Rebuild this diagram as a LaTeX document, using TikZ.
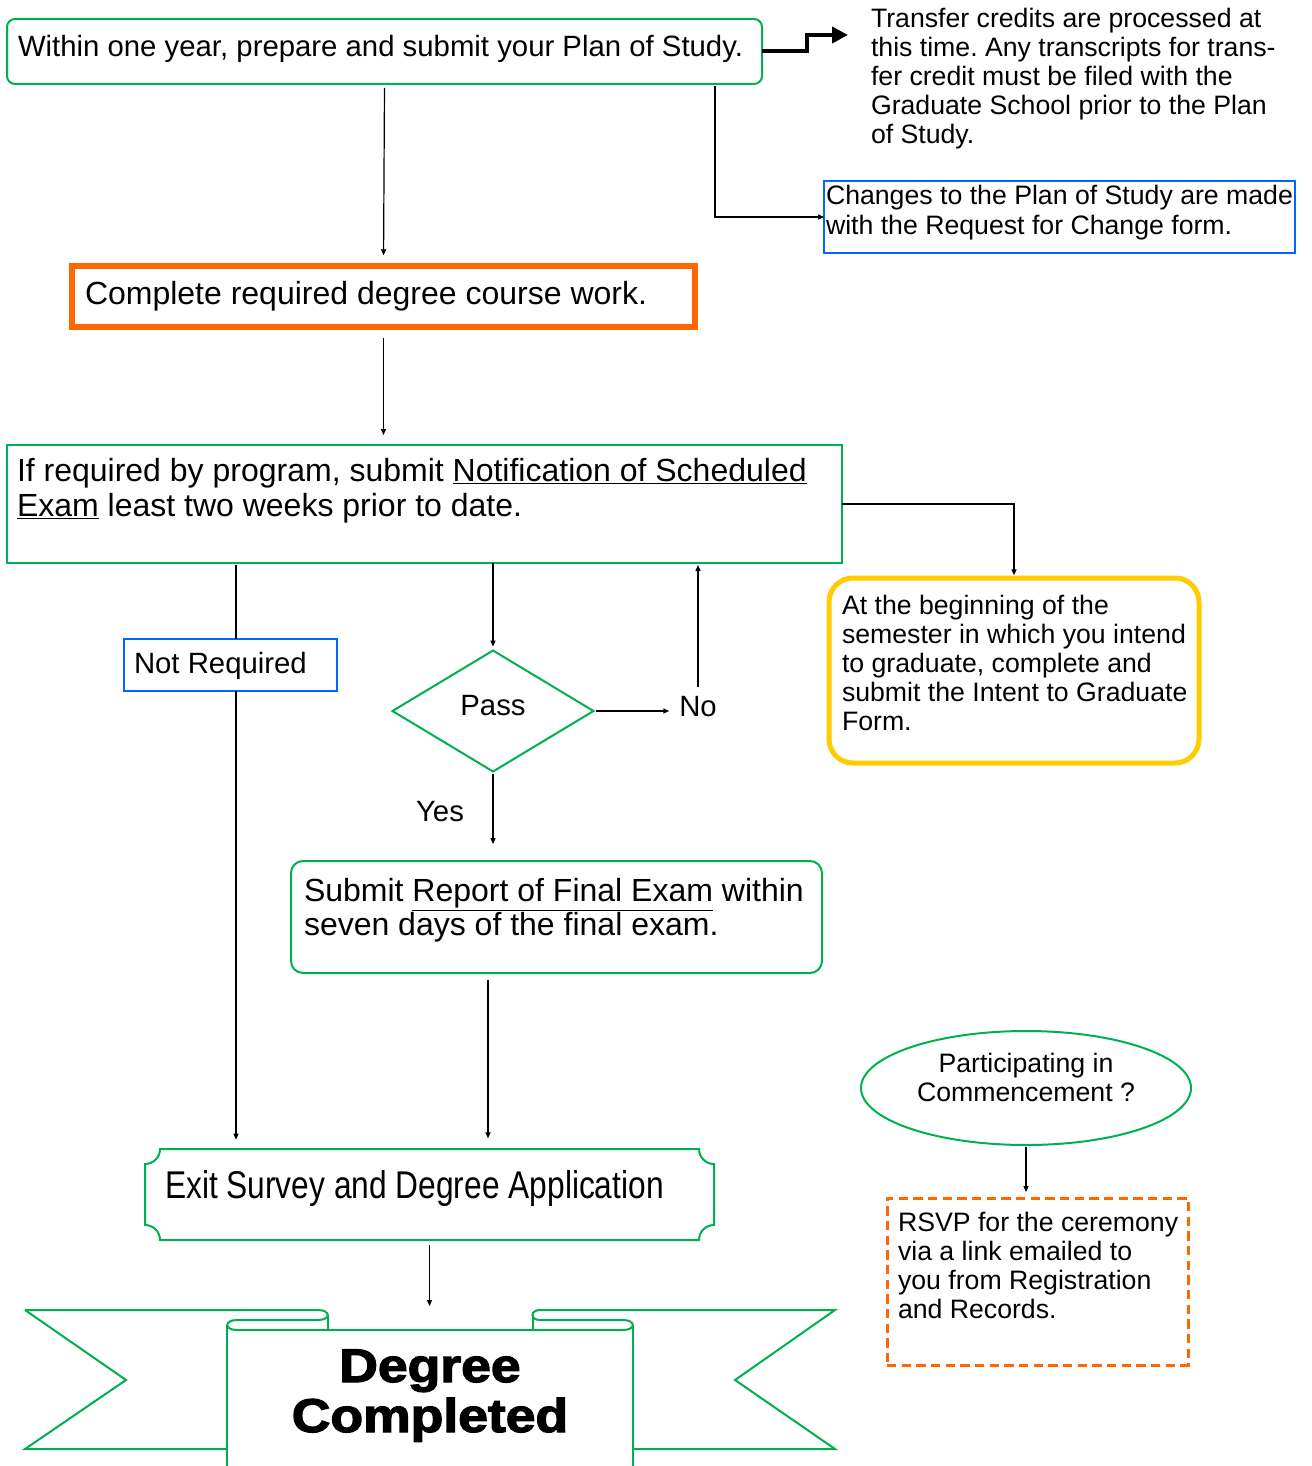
\documentclass[tikz,border=0pt]{standalone}
\usepackage{fontspec}
\setmainfont{Liberation Sans}
\newfontfamily\blk{Liberation Sans Bold}[FakeBold=2.5]
\usetikzlibrary{arrows.meta,shapes.geometric,calc}
\definecolor{gr}{RGB}{0,176,80}
\definecolor{orng}{RGB}{255,102,0}
\definecolor{blu}{RGB}{0,102,255}
\definecolor{yel}{RGB}{255,204,0}
\frenchspacing
\begin{document}
\begin{tikzpicture}[x=0.75pt,y=-0.75pt,
  sz/.style 2 args={minimum width=#1*0.75pt, minimum height=#2*0.75pt, inner sep=0pt, outer sep=0pt},
  gbox/.style={draw=gr, line width=1.5pt},
  bbox/.style={draw=blu, line width=1.5pt},
  txts/.style={inner sep=0pt, outer sep=0pt, align=left, anchor=base west, font=\fontsize{20}{21.75}\selectfont},
  txtm/.style={inner sep=0pt, outer sep=0pt, align=left, anchor=base west, font=\fontsize{22}{24}\selectfont},
  txtl/.style={inner sep=0pt, outer sep=0pt, align=left, anchor=base west, font=\fontsize{24}{26.25}\selectfont},
  arr/.style={-{Triangle[length=4.5pt,width=3.8pt]}, line width=0.9pt},
  thickarr/.style={-{Triangle[length=12pt,width=12pt]}, line width=3pt},
]
\fill[white] (0,0) rectangle (1312,1466);
\useasboundingbox (0,0) rectangle (1312,1466);

% boxes (base anchor of a multi-line text = baseline of its last line)
\node[gbox, rounded corners=6pt, sz={755}{65}, anchor=north west] (b1) at (7,19) {};
\node[txtm] (t1) at (18,56.5) {Within one year, prepare and submit your Plan of Study.};

\node[txts] (tr) at (871,143.5) {Transfer credits are processed at\\this time. Any transcripts for trans-\\fer credit must be filed with the\\Graduate School prior to the Plan\\of Study.};
\coordinate (trin) at (848,35);
\coordinate (trk) at (807,35);

\node[bbox, sz={471}{72}, anchor=north west] (b5) at (824,181) {};
\node[txts, font=\fontsize{20}{22.5}\selectfont] (t5) at (826,234.5) {Changes to the Plan of Study are made\\with the Request for Change form.};

\node[draw=orng, line width=4.5pt, sz={623}{61}, anchor=north west] (b2) at (72,266) {};
\node[txtl] (t2) at (85,304.5) {Complete required degree course work.};

\node[gbox, sz={835}{118}, anchor=north west] (b3) at (7,445) {};
\node[txtl] (t3) at (17,516.5) {If required by program, submit \underline{Notification of Scheduled}\\\underline{Exam} least two weeks prior to date.};

\node[draw=yel, line width=3.75pt, rounded corners=18pt, sz={370}{185}, anchor=north west] (yb) at (829,578) {};
\node[txts] (ty) at (842,730.5) {At the beginning of the\\semester in which you intend\\to graduate, complete and\\submit the Intent to Graduate\\Form.};

\node[bbox, sz={213}{52}, anchor=north west] (nr) at (124,639) {};
\node[txtm] (tnr) at (134,673.5) {Not Required};
\coordinate (nrx) at (236,0);

\node[gbox, diamond, sz={201}{121}] (dm) at (493,711) {};
\node[txtm, anchor=base] (tp) at (493,715.5) {Pass};
\node[txtm, anchor=base] (no) at (698,716.5) {No};
\node[txtm, anchor=base] (yes) at (440,821.5) {Yes};

\node[gbox, rounded corners=9pt, sz={531}{112}, anchor=north west] (b4) at (291,861) {};
\node[txtl, font=\fontsize{24}{25.5}\selectfont] (t4) at (304,935.5) {Submit \underline{Report of Final Exam} within\\seven days of the final exam.};
\coordinate (b4x) at (488,0);

\node[sz={569}{91}, anchor=north west] (ex) at (145,1149) {};
\draw[gr, line width=1.5pt] (160,1149) -- (699,1149) .. controls (699,1157.3) and (705.7,1164) .. (714,1164)
  -- (714,1225) .. controls (705.7,1225) and (699,1231.7) .. (699,1240)
  -- (160,1240) .. controls (160,1231.7) and (153.3,1225) .. (145,1225)
  -- (145,1164) .. controls (153.3,1164) and (160,1157.3) .. (160,1149) -- cycle;
\node[txtl] (tex) at (165,1198.5) {\scalebox{0.82}[1]{\fontsize{29}{30}\selectfont Exit Survey and Degree Application}};

\node[gbox, ellipse, sz={330}{114}] (el) at (1026,1088) {};
\node[txts, align=center, anchor=base] (tel) at (1026,1101.5) {Participating in\\Commencement ?};

\node[draw=orng, line width=2.25pt, dash pattern=on 7pt off 4pt, sz={301}{167}, anchor=north west] (rs) at (887,1198) {};
\node[txts] (trs) at (898,1318.5) {RSVP for the ceremony\\via a link emailed to\\you from Registration\\and Records.};

% banner
\begin{scope}[gr, line width=1.5pt]
\draw (25,1310) -- (318,1310) .. controls (331,1310) and (331,1320) .. (318,1320) -- (237,1320)
  .. controls (224,1320) and (224,1330) .. (237,1330) -- (623,1330)
  .. controls (636,1330) and (636,1320) .. (623,1320) -- (540,1320)
  .. controls (530,1320) and (530,1310) .. (540,1310) -- (835,1310) -- (735,1380) -- (835,1449) -- (632.8,1449);
\draw (25,1310) -- (126,1380) -- (25,1449) -- (227.3,1449);
\draw (328,1315) -- (328,1330);
\draw (532.5,1315) -- (532.5,1330);
\draw (227.3,1325) -- (227.3,1475);
\draw (632.8,1325) -- (632.8,1475);
\end{scope}
\coordinate (bantop) at (429.5,1306);
\node[inner sep=0pt, align=center, anchor=base, font=\blk\fontsize{35.5}{37.5}\selectfont] (dc) at (430,1432) {\scalebox{1.13}[1]{Degree}\\\scalebox{1.13}[1]{Completed}};

% connectors
\draw[arr, shorten <=3pt, shorten >=8pt] (b1.south) -- (b2.north);
\draw[thickarr] (b1.east) -| (trk) -- (trin);
\draw[arr, shorten <=1.5pt] ([xshift=-35.25pt]b1.south east) |- (b5.west);
\draw[arr, shorten <=8pt, shorten >=7.5pt] (b2.south) -- (b2.south |- b3.north);
\draw[arr, shorten >=2pt] (b3.east) -| (yb.north);
\draw[line width=0.9pt, shorten <=1.5pt] (b3.south -| nrx) -- (nr.north -| nrx);
\draw[arr, shorten >=7pt] (nr.south -| nrx) -- (ex.north -| nrx);
\draw[arr, shorten >=3pt] (b3.south -| dm.north) -- (dm.north);
\draw[arr, shorten <=1.5pt, shorten >=7.5pt] (dm.east) -- (dm.east -| no.west);
\draw[arr, shorten <=7pt, shorten >=1.5pt] (no.north) -- (no.north |- b3.south);
\draw[arr, shorten <=2pt, shorten >=12.75pt] (dm.south) -- (dm.south |- b4.north);
\draw[arr, shorten <=5pt, shorten >=8pt] (b4.south -| b4x) -- (ex.north -| b4x);
\draw[arr, shorten <=3.75pt] (ex.south) -- (bantop);
\draw[arr, shorten <=1.5pt, shorten >=4.5pt] (el.south) -- (el.south |- rs.north);
\end{tikzpicture}
\end{document}
